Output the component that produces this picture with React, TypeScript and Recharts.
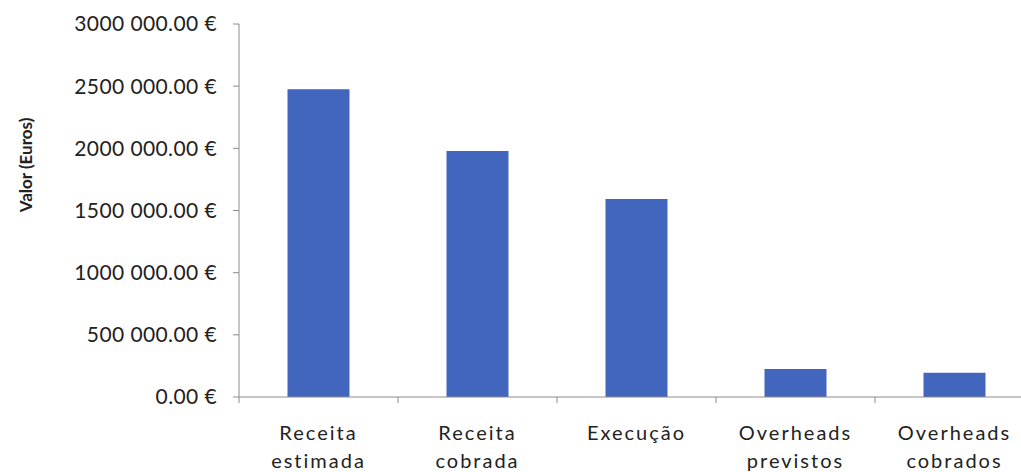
import { BarChart, Bar, XAxis, YAxis, Label } from 'recharts'

const categories = ['Receita estimada', 'Receita cobrada', 'Execução', 'Overheads previstos', 'Overheads cobrados']
const valores = [2475000, 1978000, 1592000, 225000, 195000]
const yTicks = [0, 500000, 1000000, 1500000, 2000000, 2500000, 3000000]

const data = categories.map((name, i) => ({ name, valor: valores[i] }))

const CHART_W = 1040
const CHART_H = 472
const Y_AXIS_W = 239
const MARGIN_RIGHT = 6
const CAT_W = (CHART_W - Y_AXIS_W - MARGIN_RIGHT) / categories.length

const AXIS = '#8c8c8c'
const TEXT = '#222'
const FONT = 'Lato, "Open Sans", sans-serif'

// 3000000 -> "3000 000.00 €"
function euro(v: number) {
  if (v >= 1000) {
    const th = Math.floor(v / 1000)
    const rest = String(v % 1000).padStart(3, '0')
    return `${th} ${rest}.00 €`
  }
  return `${v.toFixed(2)} €`
}

function CategoryTick(props: any) {
  const { x, y, payload, index } = props
  const label: string = payload.value
  const sp = label.indexOf(' ')
  const lines = sp > 0 ? [label.slice(0, sp), label.slice(sp + 1)] : [label]
  const left = x - CAT_W / 2
  return (
    <g>
      <line x1={left} x2={left} y1={y} y2={y + 6} stroke={AXIS} />
      {index === categories.length - 1 && (
        <line x1={x + CAT_W / 2} x2={x + CAT_W / 2} y1={y} y2={y + 6} stroke={AXIS} />
      )}
      <text x={x} y={y + 43} textAnchor="middle" fill={TEXT} fontSize={20} fontFamily={FONT} letterSpacing={2}>
        {lines.map((l, i) => (
          <tspan key={i} x={x} dy={i === 0 ? 0 : 28}>{l}</tspan>
        ))}
      </text>
    </g>
  )
}

export default function App() {
  return (
    <div style={{ position: 'absolute', left: 0, top: 0, width: 1021, height: 472, overflow: 'hidden', background: '#fff' }}>
      <BarChart
        width={CHART_W}
        height={CHART_H}
        data={data}
        margin={{ top: 24, right: MARGIN_RIGHT, bottom: 0, left: 0 }}
        barCategoryGap="30.5%"
      >
        <XAxis
          dataKey="name"
          height={75}
          interval={0}
          tickLine={false}
          tickSize={0}
          tickMargin={0}
          axisLine={{ stroke: AXIS }}
          tick={<CategoryTick />}
        />
        <YAxis
          width={Y_AXIS_W}
          domain={[0, 3000000]}
          ticks={yTicks}
          interval={0}
          tickFormatter={euro}
          tickSize={6}
          tickMargin={16}
          tickLine={{ stroke: AXIS }}
          axisLine={{ stroke: AXIS }}
          tick={{ fill: TEXT, fontSize: 21, fontFamily: FONT, letterSpacing: 0.4 }}
        >
          <Label
            content={() => (
              <text
                x={25}
                y={165}
                transform="rotate(-90 25 165)"
                textAnchor="middle"
                dominantBaseline="central"
                fill={TEXT}
                fontSize={17}
                fontWeight="bold"
                fontFamily={FONT}
              >
                Valor (Euros)
              </text>
            )}
          />
        </YAxis>
        <Bar dataKey="valor" fill="#4265be" isAnimationActive={false} />
      </BarChart>
    </div>
  )
}
